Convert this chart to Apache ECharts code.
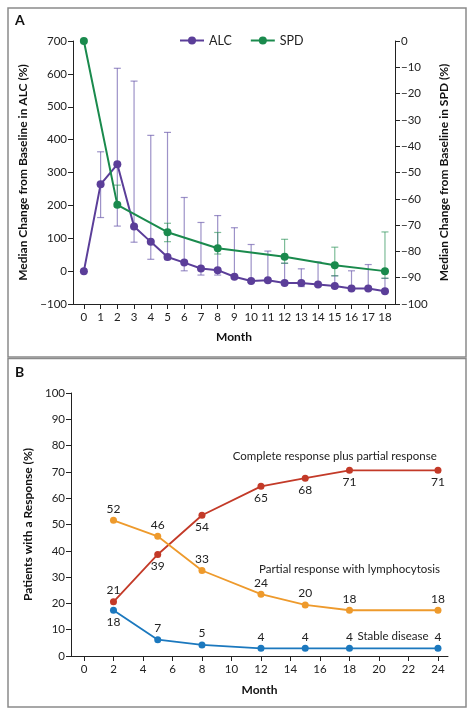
<!DOCTYPE html>
<html>
<head>
<meta charset="utf-8">
<script src="https://cdn.jsdelivr.net/npm/echarts@6/dist/echarts.min.js"></script>
<style>
html,body{margin:0;padding:0;background:#fff;}
#chart{width:474px;height:716px;}
</style>
</head>
<body>
<div id="chart"></div>
<script>
// ---------- Panel A data ----------
const monthsA = [0,1,2,3,4,5,6,7,8,9,10,11,12,13,14,15,16,17,18];
const alcMedian = [0, 264, 325, 136, 89, 43, 26, 8, 3, -17, -30, -28, -36, -36, -41, -45, -53, -53, -61];
const alcHigh   = [null, 363, 617, 578, 413, 422, 224, 148, 169, 132, 81, 61, 24, 7, 28, -14, 1, 20, -22];
const alcLow    = [null, 163, 137, 88, 36, 35, 1, -12, -12, -22, -34, -32, -40, -47, -45, -50, -57, -57, -65];
const spdMonths = [0, 2, 5, 8, 12, 15, 18];
const spdMedian = [0, -62.3, -72.7, -78.8, -82, -85.3, -87.5];
const spdHigh   = [null, -54.8, -69.3, -72.8, -75.4, -78.4, -72.6];
const spdLow    = [null, -63, -76.3, -81, -84.5, -89.3, -90.2];

// ---------- Panel B data ----------
const monthsB = [2, 5, 8, 12, 15, 18, 24];
const monthTicksB = [0, 2, 4, 6, 8, 10, 12, 14, 16, 18, 20, 22, 24];
const crPr = [20.6, 38.6, 53.5, 64.5, 67.6, 70.6, 70.6];
const crPrLabels = ['21', '39', '54', '65', '68', '71', '71'];
const prL = [51.6, 45.5, 32.5, 23.5, 19.4, 17.4, 17.4];
const prLLabels = ['52', '46', '33', '24', '20', '18', '18'];
const sd = [17.4, 6.2, 4.2, 2.9, 2.9, 2.9, 2.9];
const sdLabels = ['18', '7', '5', '4', '4', '4', '4'];
const seriesNamesB = ['Complete response plus partial response', 'Partial response with lymphocytosis', 'Stable disease'];

// label placement (style, not data)
const crPrPos = ['top', 'bottom', 'bottom', 'bottom', 'bottom', 'bottom', 'bottom'];
const prLPos  = ['top', 'top', 'top', 'top', 'top', 'top', 'top'];
const sdPos   = ['bottom', 'top', 'top', 'top', 'top', 'top', 'top'];

const FONT = 'Lato';
const PURPLE = '#5b3e99', PURPLE_E = 'rgba(105,88,170,0.65)';
const GREEN = '#1a8a4d', GREEN_E = 'rgba(40,145,85,0.6)';
const RED = '#c33a28', ORANGE = '#ee9a2c', BLUE = '#1b78be';

function minus(v){ return v < 0 ? '\u2212' + Math.abs(v) : String(v); }

function errRenderer(color){
  return function(params, api){
    const x = api.value(0), lo = api.value(1), hi = api.value(2);
    const p1 = api.coord([x, hi]), p2 = api.coord([x, lo]);
    const w = 3.5;
    const st = {stroke: color, lineWidth: 1.2, fill: null};
    return {type:'group', children:[
      {type:'line', shape:{x1:p1[0], y1:p1[1], x2:p2[0], y2:p2[1]}, style:st},
      {type:'line', shape:{x1:p1[0]-w, y1:p1[1], x2:p1[0]+w, y2:p1[1]}, style:st},
      {type:'line', shape:{x1:p2[0]-w, y1:p2[1], x2:p2[0]+w, y2:p2[1]}, style:st}
    ]};
  };
}

const alcErr = [], spdErr = [];
monthsA.forEach((m,i)=>{ if(alcHigh[i]!==null) alcErr.push([m, alcLow[i], alcHigh[i]]); });
spdMonths.forEach((m,i)=>{ if(spdHigh[i]!==null) spdErr.push([m, spdLow[i], spdHigh[i]]); });

function labeled(vals, labels, pos){
  return monthsB.map((m,i)=>({value:[m, vals[i]], label:{position:pos[i], formatter:labels[i]}}));
}

const axisLineStyle = {color:'#222', width:1};
const tickLabel = {color:'#222', fontSize:11.5, fontFamily:FONT};
const nameStyle = {color:'#111', fontSize:12, fontWeight:'bold', fontFamily:FONT};

const chart = echarts.init(document.getElementById('chart'), null, {renderer:'canvas'});
chart.setOption({
  animation:false,
  textStyle:{fontFamily:FONT},
  graphic:[
    {type:'rect', shape:{x:8, y:8, width:458, height:349}, style:{fill:'none', stroke:'#8a8a8a', lineWidth:1.5}},
    {type:'rect', shape:{x:8, y:358.5, width:458, height:348.5}, style:{fill:'none', stroke:'#8a8a8a', lineWidth:1.5}},
    {type:'text', left:15, top:13, style:{text:'A', font:'bold 14px Lato', fill:'#111'}},
    {type:'text', left:15, top:365, style:{text:'B', font:'bold 14px Lato', fill:'#111'}}
  ],
  legend:{
    data:['ALC','SPD'], left:174, top:29, itemWidth:24, itemHeight:10, itemGap:18,
    textStyle:{color:'#222', fontSize:12.5, fontFamily:FONT}
  },
  grid:[
    {left:73, right:79, top:41, bottom:412},
    {left:71, right:26, top:393, bottom:60}
  ],
  xAxis:[
    {gridIndex:0, type:'value', min:-0.65, max:18.6,
     name:'Month', nameLocation:'middle', nameGap:27, nameTextStyle:nameStyle,
     axisLine:{onZero:false, lineStyle:axisLineStyle},
     axisTick:{customValues:monthsA, length:5, inside:false, lineStyle:axisLineStyle},
     axisLabel:{customValues:monthsA, margin:7, ...tickLabel},
     splitLine:{show:false}},
    {gridIndex:1, type:'value', min:-0.88, max:24.68,
     name:'Month', nameLocation:'middle', nameGap:28, nameTextStyle:nameStyle,
     axisLine:{onZero:false, lineStyle:axisLineStyle},
     axisTick:{customValues:monthTicksB, length:5, lineStyle:axisLineStyle},
     axisLabel:{customValues:monthTicksB, margin:7, ...tickLabel},
     splitLine:{show:false}}
  ],
  yAxis:[
    {gridIndex:0, type:'value', min:-100, max:700, interval:100, position:'left',
     name:'Median Change from Baseline in ALC (%)', nameLocation:'middle', nameGap:35, nameTextStyle:nameStyle,
     axisLine:{show:true, onZero:false, lineStyle:axisLineStyle},
     axisTick:{show:true, length:5, lineStyle:axisLineStyle},
     axisLabel:{margin:6, formatter:minus, ...tickLabel},
     splitLine:{show:false}},
    {gridIndex:0, type:'value', min:-100, max:0, interval:10, position:'right',
     name:'Median Change from Baseline in SPD (%)', nameLocation:'middle', nameGap:42, nameRotate:90, nameTextStyle:nameStyle,
     axisLine:{show:true, onZero:false, lineStyle:axisLineStyle},
     axisTick:{show:true, length:5, lineStyle:axisLineStyle},
     axisLabel:{margin:6, formatter:minus, ...tickLabel},
     splitLine:{show:false}},
    {gridIndex:1, type:'value', min:0, max:100, interval:10,
     name:'Patients with a Response (%)', nameLocation:'middle', nameGap:35, nameTextStyle:nameStyle,
     axisLine:{show:true, onZero:false, lineStyle:axisLineStyle},
     axisTick:{show:true, length:5, lineStyle:axisLineStyle},
     axisLabel:{margin:6, ...tickLabel},
     splitLine:{show:false}}
  ],
  series:[
    {name:'ALC range', type:'custom', xAxisIndex:0, yAxisIndex:0, z:1,
     renderItem:errRenderer(PURPLE_E), encode:{x:0, y:[1,2]}, data:alcErr},
    {name:'SPD range', type:'custom', xAxisIndex:0, yAxisIndex:1, z:1,
     renderItem:errRenderer(GREEN_E), encode:{x:0, y:[1,2]}, data:spdErr},
    {name:'ALC', type:'line', xAxisIndex:0, yAxisIndex:0, z:3,
     data:monthsA.map((m,i)=>[m, alcMedian[i]]),
     symbol:'circle', symbolSize:8, color:PURPLE,
     lineStyle:{color:PURPLE, width:2}, itemStyle:{color:PURPLE}},
    {name:'SPD', type:'line', xAxisIndex:0, yAxisIndex:1, z:4,
     data:spdMonths.map((m,i)=>[m, spdMedian[i]]),
     symbol:'circle', symbolSize:8, color:GREEN,
     lineStyle:{color:GREEN, width:2}, itemStyle:{color:GREEN}},
    {name:seriesNamesB[0], type:'line', xAxisIndex:1, yAxisIndex:2,
     data:labeled(crPr, crPrLabels, crPrPos),
     symbol:'circle', symbolSize:7, color:RED,
     lineStyle:{color:RED, width:1.8}, itemStyle:{color:RED},
     label:{show:true, distance:2, color:'#222', fontSize:12, fontFamily:FONT},
     markPoint:{symbol:'circle', symbolSize:0, silent:true,
       label:{show:true, position:'inside', color:'#222', fontSize:11.5, fontFamily:FONT},
       data:[{coord:[17.0, 75.8], value:0, label:{formatter:seriesNamesB[0]}}]}},
    {name:seriesNamesB[1], type:'line', xAxisIndex:1, yAxisIndex:2,
     data:labeled(prL, prLLabels, prLPos),
     symbol:'circle', symbolSize:7, color:ORANGE,
     lineStyle:{color:ORANGE, width:1.8}, itemStyle:{color:ORANGE},
     label:{show:true, distance:2, color:'#222', fontSize:12, fontFamily:FONT},
     markPoint:{symbol:'circle', symbolSize:0, silent:true,
       label:{show:true, position:'inside', color:'#222', fontSize:11.5, fontFamily:FONT},
       data:[{coord:[18.0, 33.1], value:0, label:{formatter:seriesNamesB[1]}}]}},
    {name:seriesNamesB[2], type:'line', xAxisIndex:1, yAxisIndex:2,
     data:labeled(sd, sdLabels, sdPos),
     symbol:'circle', symbolSize:7, color:BLUE,
     lineStyle:{color:BLUE, width:1.8}, itemStyle:{color:BLUE},
     label:{show:true, distance:2, color:'#222', fontSize:12, fontFamily:FONT},
     markPoint:{symbol:'circle', symbolSize:0, silent:true,
       label:{show:true, position:'inside', color:'#222', fontSize:11.5, fontFamily:FONT},
       data:[{coord:[20.95, 7.6], value:0, label:{formatter:seriesNamesB[2]}}]}}
  ]
});
</script>
</body>
</html>
